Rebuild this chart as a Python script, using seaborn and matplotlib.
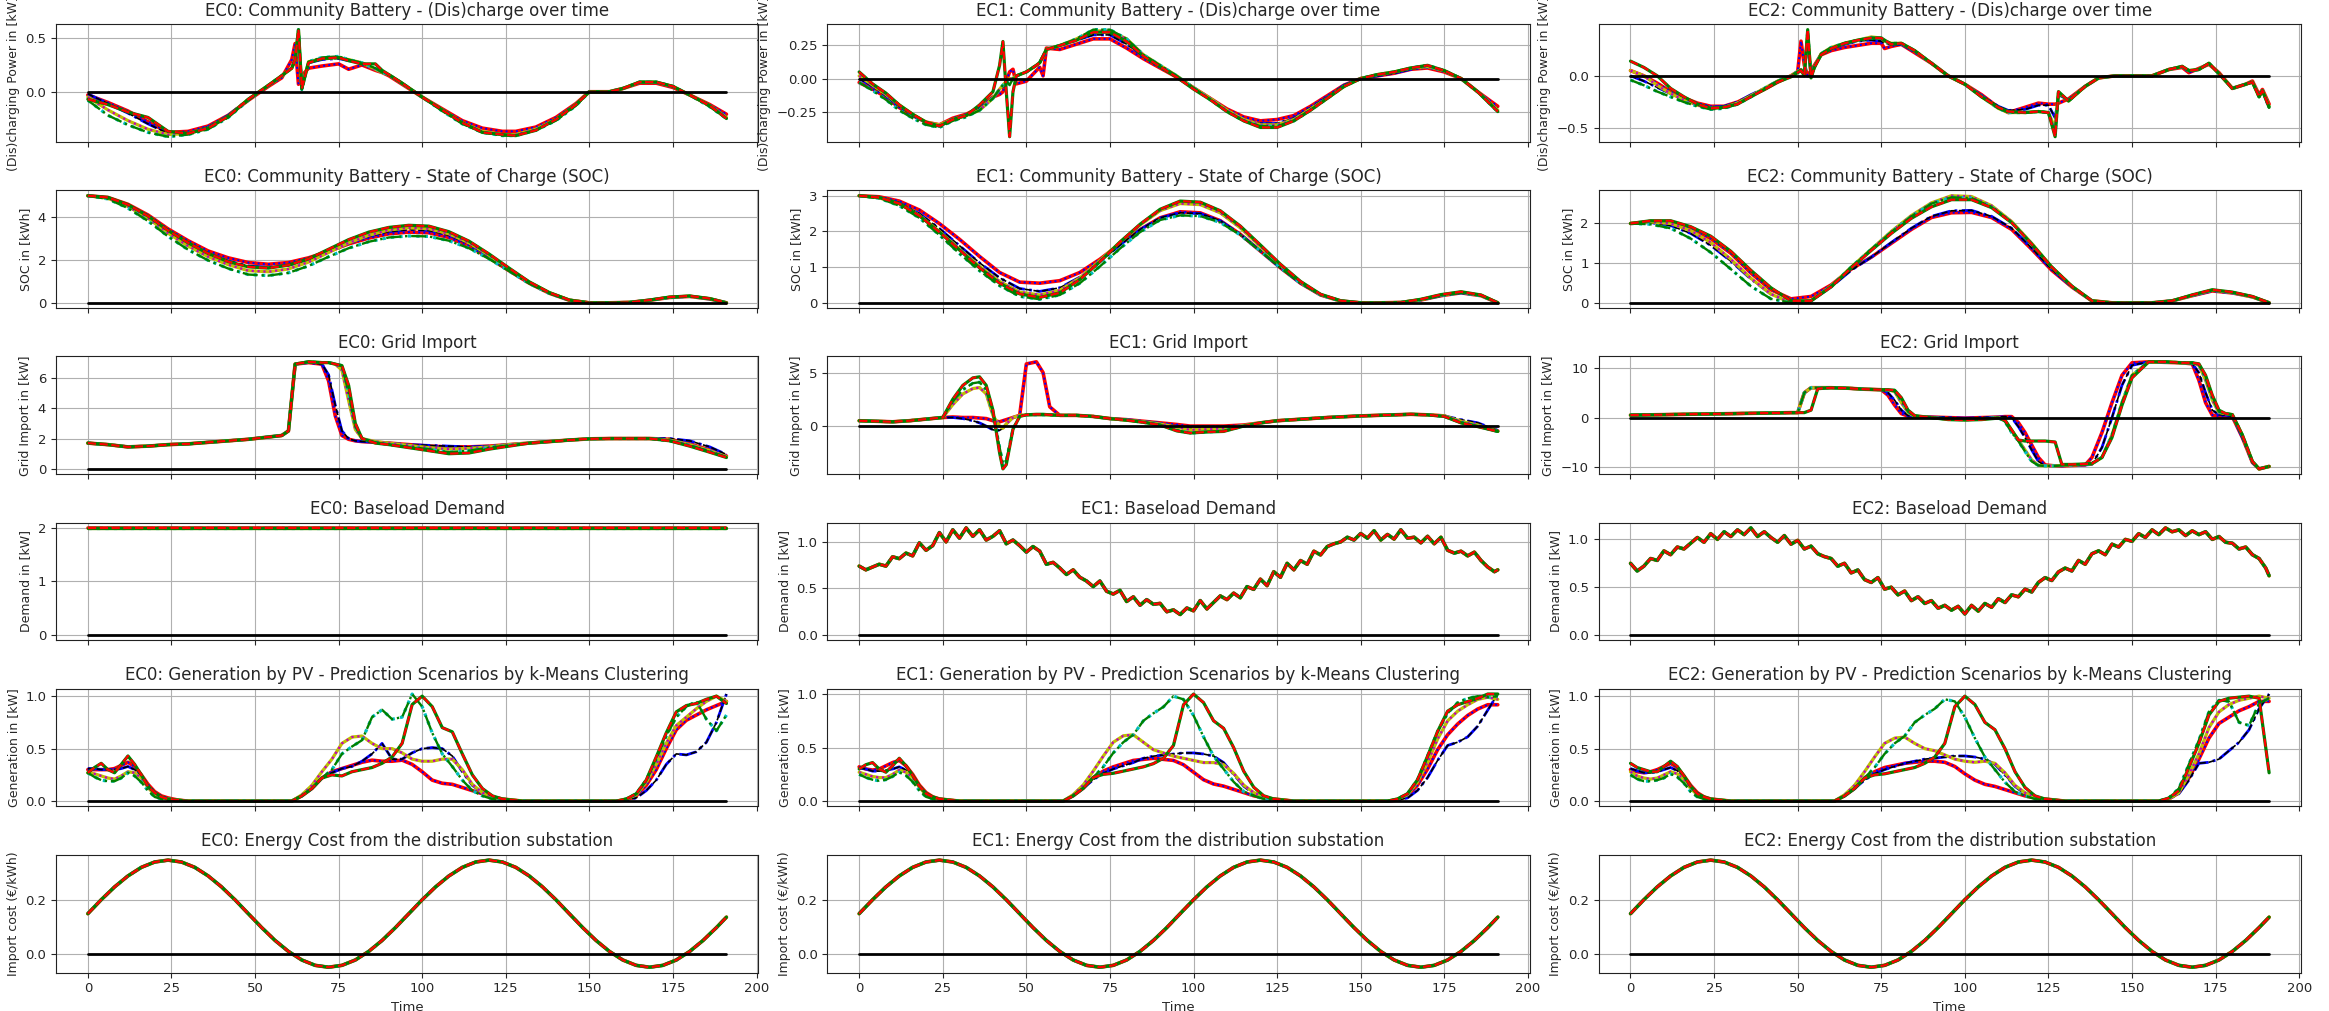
import numpy as np
import matplotlib
matplotlib.use("Agg")
import matplotlib.pyplot as plt
import seaborn as sns

# ---------------- data ----------------
# Row 1: battery (dis)charge power [kW]; scenarios r, b, y, c, g
ec0_dis_t = [0,6,12,18,24,30,36,42,48,54,58,61,62,63,64,66,70,75,78,82,86,88,90,94,100,106,112,118,124,128,134,140,146,150,156,160,165,170,175,180,186,191]
ec0_dis_r = [-0.03,-0.10,-0.18,-0.28,-0.38,-0.37,-0.32,-0.22,-0.08,0.05,0.13,0.30,0.45,0.07,0.15,0.22,0.24,0.26,0.21,0.25,0.20,0.18,0.15,0.07,-0.05,-0.16,-0.27,-0.34,-0.37,-0.37,-0.33,-0.24,-0.11,0.00,0.00,0.03,0.08,0.08,0.04,-0.03,-0.12,-0.21]
ec0_dis_b = [-0.02,-0.11,-0.20,-0.30,-0.39,-0.39,-0.33,-0.22,-0.07,0.06,0.15,0.22,0.30,0.56,0.03,0.27,0.30,0.31,0.29,0.27,0.21,0.18,0.16,0.08,-0.05,-0.17,-0.29,-0.37,-0.40,-0.40,-0.35,-0.26,-0.12,0.00,0.00,0.03,0.09,0.09,0.05,-0.03,-0.13,-0.23]
ec0_dis_y = [-0.05,-0.17,-0.27,-0.35,-0.40,-0.39,-0.34,-0.23,-0.07,0.06,0.15,0.22,0.30,0.57,0.03,0.28,0.31,0.32,0.30,0.27,0.21,0.18,0.16,0.08,-0.05,-0.17,-0.29,-0.37,-0.40,-0.40,-0.35,-0.26,-0.12,0.00,0.00,0.03,0.09,0.09,0.05,-0.03,-0.13,-0.24]
ec0_dis_c = [-0.08,-0.22,-0.31,-0.38,-0.42,-0.40,-0.35,-0.24,-0.08,0.06,0.15,0.22,0.30,0.58,0.02,0.28,0.32,0.33,0.30,0.27,0.22,0.18,0.16,0.08,-0.05,-0.18,-0.30,-0.38,-0.41,-0.41,-0.36,-0.27,-0.13,0.00,0.00,0.03,0.09,0.09,0.05,-0.03,-0.14,-0.25]
ec0_dis_g = [-0.07,-0.12,-0.19,-0.24,-0.37,-0.39,-0.34,-0.23,-0.07,0.06,0.15,0.22,0.30,0.58,0.03,0.27,0.31,0.32,0.29,0.26,0.26,0.20,0.16,0.08,-0.05,-0.17,-0.29,-0.38,-0.40,-0.41,-0.36,-0.26,-0.12,0.00,0.00,0.03,0.09,0.09,0.05,-0.03,-0.13,-0.25]

ec1_dis_t = [0,4,8,12,16,20,24,28,32,36,40,42,43,44,45,46,47,50,53,54,55,56,60,65,70,75,80,85,90,95,100,105,110,115,120,125,130,135,140,145,150,155,160,165,170,175,180,185,191]
ec1_dis_r = [-0.03,-0.08,-0.14,-0.22,-0.28,-0.33,-0.35,-0.30,-0.27,-0.22,-0.14,-0.12,-0.10,-0.02,0.05,0.07,-0.04,-0.02,0.06,0.085,0.02,0.23,0.22,0.26,0.30,0.30,0.23,0.15,0.08,0.01,-0.07,-0.15,-0.23,-0.29,-0.32,-0.31,-0.28,-0.21,-0.13,-0.05,0.0,0.02,0.04,0.07,0.08,0.05,0.0,-0.10,-0.21]
ec1_dis_b = [0.0,-0.06,-0.13,-0.21,-0.28,-0.33,-0.36,-0.31,-0.28,-0.23,-0.15,-0.09,-0.06,-0.03,0.0,0.0,0.02,0.05,0.10,0.12,0.17,0.22,0.25,0.29,0.33,0.33,0.26,0.17,0.09,0.02,-0.07,-0.15,-0.24,-0.31,-0.34,-0.34,-0.30,-0.22,-0.14,-0.05,0.0,0.02,0.04,0.07,0.09,0.06,0.0,-0.10,-0.23]
ec1_dis_y = [0.02,-0.05,-0.12,-0.20,-0.27,-0.33,-0.35,-0.31,-0.28,-0.24,-0.15,-0.08,-0.05,-0.02,0.0,0.0,0.02,0.05,0.10,0.12,0.17,0.22,0.25,0.30,0.36,0.36,0.30,0.18,0.10,0.02,-0.07,-0.15,-0.24,-0.31,-0.35,-0.35,-0.31,-0.23,-0.15,-0.06,0.0,0.03,0.05,0.08,0.09,0.06,0.0,-0.10,-0.24]
ec1_dis_c = [-0.03,-0.09,-0.16,-0.24,-0.30,-0.35,-0.37,-0.32,-0.29,-0.24,-0.15,-0.08,-0.05,-0.02,-0.05,0.0,0.02,0.05,0.10,0.12,0.17,0.22,0.25,0.30,0.37,0.37,0.30,0.18,0.10,0.02,-0.07,-0.16,-0.25,-0.32,-0.36,-0.36,-0.32,-0.24,-0.15,-0.06,0.0,0.03,0.05,0.08,0.10,0.06,0.0,-0.10,-0.25]
ec1_dis_g = [0.05,-0.04,-0.11,-0.20,-0.27,-0.33,-0.36,-0.31,-0.28,-0.20,-0.10,0.10,0.28,-0.10,-0.44,-0.10,0.02,0.05,0.10,0.12,0.17,0.22,0.25,0.29,0.35,0.35,0.28,0.17,0.09,0.01,-0.08,-0.16,-0.25,-0.32,-0.37,-0.37,-0.32,-0.24,-0.15,-0.06,0.0,0.03,0.05,0.08,0.10,0.06,0.0,-0.10,-0.25]

ec2_dis_t = [0,4,8,12,16,20,24,28,32,36,40,44,48,50,51,52,53,54,55,57,60,64,68,72,75,76,78,81,85,90,95,100,105,110,113,118,122,125,127,128,131,136,140,145,150,156,161,165,167,170,173,176,180,184,186,188,189,191]
ec2_dis_r = [0.05,0.0,-0.07,-0.15,-0.21,-0.26,-0.29,-0.29,-0.25,-0.19,-0.13,-0.06,0.0,0.04,0.33,0.10,0.0,0.05,0.10,0.20,0.24,0.27,0.29,0.31,0.31,0.26,0.28,0.30,0.22,0.12,0.0,-0.08,-0.18,-0.30,-0.35,-0.30,-0.26,-0.27,-0.27,-0.26,-0.22,-0.10,-0.02,0.0,0.0,0.0,0.06,0.08,0.03,0.07,0.11,0.03,-0.12,-0.08,-0.05,-0.18,-0.13,-0.27]
ec2_dis_b = [0.0,-0.05,-0.11,-0.17,-0.22,-0.27,-0.30,-0.29,-0.25,-0.18,-0.12,-0.05,0.0,0.04,0.06,0.02,0.30,0.0,0.08,0.21,0.26,0.30,0.33,0.34,0.33,0.31,0.30,0.30,0.23,0.12,0.0,-0.08,-0.19,-0.29,-0.33,-0.32,-0.28,-0.28,-0.40,-0.18,-0.23,-0.10,-0.02,0.0,0.0,0.0,0.06,0.09,0.04,0.06,0.12,0.02,-0.12,-0.08,-0.06,-0.19,-0.14,-0.31]
ec2_dis_y = [0.05,0.0,-0.09,-0.17,-0.23,-0.28,-0.31,-0.30,-0.26,-0.19,-0.12,-0.05,0.0,0.04,0.06,0.02,0.40,0.0,0.08,0.21,0.27,0.31,0.34,0.37,0.36,0.33,0.31,0.31,0.24,0.12,0.0,-0.08,-0.20,-0.31,-0.35,-0.35,-0.34,-0.35,-0.50,-0.16,-0.24,-0.10,-0.02,0.0,0.0,0.0,0.06,0.09,0.05,0.06,0.12,0.02,-0.12,-0.08,-0.06,-0.20,-0.14,-0.29]
ec2_dis_c = [-0.04,-0.09,-0.15,-0.20,-0.25,-0.29,-0.32,-0.31,-0.27,-0.20,-0.12,-0.05,0.0,0.04,0.06,0.02,0.42,-0.01,0.08,0.21,0.27,0.31,0.34,0.36,0.36,0.33,0.31,0.31,0.24,0.12,0.0,-0.08,-0.20,-0.31,-0.35,-0.35,-0.34,-0.35,-0.55,-0.16,-0.24,-0.10,-0.02,0.0,0.0,0.0,0.06,0.09,0.05,0.06,0.12,0.02,-0.12,-0.08,-0.06,-0.20,-0.14,-0.30]
ec2_dis_g = [0.14,0.08,0.0,-0.12,-0.20,-0.27,-0.31,-0.30,-0.27,-0.20,-0.13,-0.06,-0.01,0.03,0.05,0.0,0.44,-0.02,0.08,0.20,0.26,0.31,0.34,0.36,0.36,0.34,0.30,0.31,0.24,0.12,0.0,-0.08,-0.20,-0.30,-0.34,-0.35,-0.34,-0.35,-0.58,-0.15,-0.24,-0.10,-0.02,0.0,0.0,0.0,0.06,0.09,0.05,0.06,0.12,0.02,-0.12,-0.08,-0.06,-0.20,-0.14,-0.30]

# Row 2: state of charge [kWh], sampled every 6 h
soc_t = [0,6,12,18,24,30,36,42,48,54,60,66,72,78,84,90,96,102,108,114,120,126,132,138,144,150,156,162,168,174,180,186,191]
ec0_soc_r = [5.0,4.92,4.6,4.1,3.45,2.9,2.42,2.1,1.88,1.8,1.88,2.1,2.4,2.75,3.02,3.22,3.3,3.27,3.05,2.65,2.1,1.5,0.92,0.45,0.12,0.0,0.0,0.02,0.12,0.25,0.3,0.18,0.0]
ec0_soc_b = [5.0,4.9,4.55,4.02,3.35,2.78,2.3,1.95,1.72,1.66,1.75,2.0,2.38,2.78,3.1,3.32,3.42,3.38,3.15,2.75,2.18,1.55,0.95,0.47,0.13,0.0,0.0,0.02,0.12,0.25,0.3,0.18,0.0]
ec0_soc_y = [5.0,4.88,4.5,3.95,3.25,2.65,2.15,1.78,1.5,1.45,1.58,1.9,2.35,2.8,3.15,3.4,3.5,3.46,3.22,2.8,2.22,1.58,0.97,0.48,0.13,0.0,0.0,0.02,0.12,0.26,0.31,0.19,0.0]
ec0_soc_c = [5.0,4.85,4.42,3.82,3.1,2.48,1.98,1.6,1.32,1.27,1.4,1.72,2.15,2.55,2.85,3.05,3.12,3.1,2.9,2.55,2.05,1.48,0.9,0.44,0.12,0.0,0.0,0.02,0.12,0.25,0.3,0.18,0.0]
ec0_soc_g = [5.0,4.92,4.58,4.05,3.38,2.8,2.3,1.92,1.68,1.62,1.76,2.05,2.5,2.95,3.3,3.52,3.62,3.58,3.32,2.88,2.28,1.62,0.98,0.48,0.13,0.0,0.0,0.02,0.13,0.27,0.32,0.2,0.0]

ec1_soc_r = [3.0,2.97,2.85,2.6,2.22,1.78,1.3,0.85,0.58,0.55,0.62,0.85,1.22,1.65,2.05,2.38,2.55,2.52,2.3,1.92,1.45,0.98,0.55,0.22,0.05,0.0,0.0,0.01,0.08,0.2,0.28,0.2,0.0]
ec1_soc_b = [3.0,2.95,2.8,2.5,2.08,1.6,1.12,0.7,0.4,0.32,0.42,0.72,1.15,1.62,2.05,2.38,2.52,2.5,2.3,1.92,1.45,0.98,0.55,0.22,0.05,0.0,0.0,0.01,0.08,0.2,0.28,0.2,0.0]
ec1_soc_y = [3.0,2.94,2.77,2.45,2.0,1.5,1.02,0.6,0.3,0.22,0.35,0.7,1.18,1.7,2.18,2.58,2.78,2.75,2.52,2.1,1.58,1.05,0.58,0.23,0.05,0.0,0.0,0.01,0.09,0.22,0.3,0.21,0.0]
ec1_soc_c = [3.0,2.93,2.72,2.38,1.9,1.38,0.9,0.48,0.18,0.1,0.22,0.55,1.02,1.52,1.98,2.32,2.45,2.43,2.25,1.9,1.45,0.98,0.55,0.22,0.05,0.0,0.0,0.01,0.08,0.2,0.28,0.2,0.0]
ec1_soc_g = [3.0,2.95,2.78,2.44,1.98,1.48,0.98,0.55,0.25,0.15,0.28,0.65,1.15,1.7,2.2,2.62,2.85,2.82,2.58,2.15,1.62,1.08,0.6,0.24,0.06,0.0,0.0,0.01,0.1,0.23,0.31,0.22,0.0]

ec2_soc_r = [2.0,2.05,2.02,1.88,1.62,1.25,0.75,0.33,0.1,0.16,0.45,0.85,1.15,1.5,1.85,2.15,2.27,2.28,2.15,1.85,1.35,0.82,0.4,0.05,0.0,0.0,0.0,0.05,0.18,0.3,0.25,0.15,0.0]
ec2_soc_b = [2.0,2.02,1.95,1.75,1.45,1.05,0.6,0.22,0.02,0.05,0.4,0.82,1.15,1.52,1.88,2.18,2.32,2.33,2.18,1.88,1.38,0.84,0.4,0.05,0.0,0.0,0.0,0.05,0.18,0.3,0.25,0.15,0.0]
ec2_soc_y = [2.0,2.04,2.0,1.82,1.52,1.1,0.62,0.22,0.0,0.05,0.42,0.9,1.35,1.8,2.2,2.52,2.7,2.68,2.45,2.05,1.5,0.9,0.42,0.05,0.0,0.0,0.0,0.05,0.19,0.32,0.26,0.15,0.0]
ec2_soc_c = [2.0,1.98,1.88,1.62,1.27,0.85,0.42,0.1,0.0,0.05,0.42,0.9,1.35,1.78,2.18,2.5,2.66,2.64,2.42,2.03,1.48,0.9,0.42,0.05,0.0,0.0,0.0,0.05,0.19,0.32,0.26,0.15,0.0]
ec2_soc_g = [2.0,2.07,2.07,1.92,1.68,1.3,0.82,0.38,0.05,0.05,0.4,0.88,1.32,1.75,2.13,2.42,2.6,2.6,2.4,2.02,1.48,0.9,0.42,0.05,0.0,0.0,0.0,0.05,0.2,0.33,0.27,0.16,0.0]

# Row 3: grid import [kW]
ec0_grid_t = [0,6,12,18,24,30,36,42,48,54,58,60,62,66,70,72,74,76,78,80,82,86,90,96,102,108,114,120,126,132,138,144,150,156,162,168,174,180,186,191]
ec0_grid_r = [1.7,1.6,1.45,1.5,1.6,1.65,1.75,1.85,1.95,2.1,2.2,2.5,6.9,7.0,6.9,5.8,3.5,2.2,1.95,1.85,1.8,1.75,1.7,1.6,1.5,1.45,1.45,1.5,1.6,1.7,1.8,1.9,1.98,2.0,2.0,2.0,1.95,1.65,1.25,0.85]
ec0_grid_b = [1.7,1.6,1.45,1.5,1.6,1.65,1.75,1.85,1.95,2.1,2.2,2.5,6.9,7.0,6.9,6.2,4.2,2.5,2.0,1.85,1.8,1.75,1.7,1.6,1.55,1.5,1.45,1.5,1.6,1.7,1.8,1.9,1.98,2.0,2.0,2.0,2.0,1.85,1.45,0.95]
ec0_grid_y = [1.7,1.6,1.45,1.5,1.6,1.65,1.75,1.85,1.95,2.1,2.2,2.5,6.9,7.05,7.0,7.0,6.9,6.5,4.5,2.6,2.0,1.8,1.7,1.55,1.4,1.3,1.35,1.45,1.6,1.7,1.8,1.9,1.98,2.0,2.0,2.0,1.9,1.6,1.2,0.8]
ec0_grid_c = [1.7,1.6,1.45,1.5,1.6,1.65,1.75,1.85,1.95,2.1,2.2,2.5,6.9,7.05,7.0,7.0,6.9,6.8,5.0,2.8,2.0,1.75,1.6,1.45,1.3,1.1,1.2,1.4,1.55,1.7,1.8,1.9,1.98,2.0,2.0,2.0,1.85,1.55,1.15,0.78]
ec0_grid_g = [1.7,1.6,1.45,1.5,1.6,1.65,1.75,1.85,1.95,2.1,2.2,2.5,6.9,7.05,7.0,7.0,6.9,6.8,5.5,3.0,2.0,1.7,1.6,1.4,1.2,1.0,1.05,1.3,1.5,1.7,1.8,1.9,1.98,2.0,2.0,2.0,1.85,1.5,1.1,0.75]

ec1_grid_t = [0,5,10,15,20,25,28,31,34,36,38,40,42,43,44,46,48,50,53,55,57,60,65,70,75,80,85,90,95,99,104,109,115,120,125,130,140,150,160,165,170,175,180,185,191]
ec1_grid_r = [0.5,0.45,0.4,0.5,0.65,0.8,0.85,0.8,0.8,0.75,0.7,0.5,0.4,0.5,0.6,0.8,1.0,5.8,6.0,5.0,1.8,1.0,1.0,0.9,0.7,0.6,0.45,0.3,0.15,0.0,0.0,0.0,0.1,0.3,0.5,0.6,0.8,0.95,1.05,1.1,1.05,0.95,0.35,0.0,-0.45]
ec1_grid_b = [0.5,0.45,0.4,0.5,0.65,0.8,0.8,0.7,0.5,0.3,0.0,-0.35,-0.4,-0.2,0.2,0.8,1.0,1.05,1.05,1.05,1.05,1.0,1.0,0.9,0.7,0.6,0.45,0.25,0.0,-0.2,-0.2,-0.15,0.05,0.3,0.5,0.6,0.8,0.95,1.05,1.1,1.05,0.95,0.6,0.3,-0.4]
ec1_grid_y = [0.5,0.45,0.4,0.5,0.65,0.8,2.0,3.0,3.5,3.6,3.0,1.0,0.0,-0.2,0.2,0.8,1.0,1.05,1.05,1.05,1.05,1.0,1.0,0.9,0.7,0.55,0.4,0.2,-0.1,-0.35,-0.3,-0.2,0.05,0.3,0.5,0.6,0.8,0.95,1.05,1.1,1.05,0.95,0.45,0.1,-0.5]
ec1_grid_c = [0.5,0.45,0.4,0.5,0.65,0.8,2.3,3.4,4.0,4.1,3.4,1.2,-2.0,-3.5,-3.2,-0.3,0.9,1.05,1.05,1.05,1.05,1.0,1.0,0.9,0.7,0.55,0.35,0.1,-0.4,-0.65,-0.55,-0.45,0.0,0.3,0.5,0.6,0.8,0.95,1.05,1.1,1.05,0.9,0.35,0.0,-0.5]
ec1_grid_g = [0.5,0.45,0.4,0.5,0.65,0.8,2.5,3.8,4.5,4.6,3.8,1.5,-2.5,-4.0,-3.6,-0.3,0.9,1.05,1.1,1.1,1.05,1.0,1.0,0.9,0.7,0.55,0.35,0.1,-0.45,-0.65,-0.55,-0.5,0.0,0.3,0.5,0.6,0.8,0.95,1.05,1.1,1.05,0.9,0.3,-0.05,-0.5]

ec2_grid_t = [0,10,20,30,40,48,50,52,54,56,60,65,70,75,77,79,81,83,85,90,95,100,105,110,112,114,116,118,120,122,124,127,129,132,136,138,141,144,147,150,155,160,165,168,170,172,174,176,178,180,183,186,188,191]
ec2_grid_r = [0.5,0.6,0.7,0.8,0.9,1.0,1.0,5.0,6.0,6.0,6.0,5.9,5.7,5.6,4.5,2.5,0.8,0.3,0.2,0.1,0.0,-0.1,0.0,0.1,0.2,0.2,-1.0,-3.0,-5.5,-8.0,-9.5,-9.7,-9.7,-9.6,-9.5,-8.0,-3.0,3.0,8.5,11.0,11.2,11.1,11.0,10.8,7.5,3.0,0.5,0.3,0.3,0.2,-4.0,-9.0,-10.3,-9.8]
ec2_grid_b = [0.5,0.6,0.7,0.8,0.9,1.0,1.0,5.0,6.0,6.0,6.0,5.9,5.7,5.6,5.0,3.5,1.5,0.4,0.2,0.1,0.0,-0.1,0.0,0.1,0.2,0.0,-1.8,-4.0,-6.5,-8.8,-9.7,-9.7,-9.7,-9.6,-9.5,-9.4,-6.0,0.0,6.5,10.5,11.2,11.1,11.0,10.9,9.0,5.0,1.5,0.6,0.5,0.3,-4.0,-9.0,-10.3,-9.8]
ec2_grid_y = [0.5,0.6,0.7,0.8,0.9,1.0,1.0,5.0,6.0,6.0,6.0,5.9,5.7,5.6,5.6,5.2,3.0,1.0,0.3,0.0,-0.3,-0.4,-0.3,0.0,-0.5,-2.5,-4.5,-6.5,-8.5,-9.6,-9.7,-9.7,-9.6,-9.5,-9.4,-9.3,-8.0,-3.5,3.0,8.5,11.2,11.2,11.0,11.0,10.5,7.5,3.5,1.0,0.8,0.6,-3.5,-8.8,-10.3,-9.8]
ec2_grid_c = [0.5,0.6,0.7,0.8,0.9,1.0,1.0,5.0,6.0,6.0,6.0,5.9,5.7,5.6,5.6,5.3,3.5,1.2,0.3,0.0,-0.3,-0.4,-0.3,0.0,-0.8,-3.0,-4.7,-6.8,-8.8,-9.6,-9.7,-9.7,-9.6,-9.5,-9.4,-9.3,-8.0,-3.5,3.0,8.5,11.2,11.2,11.0,11.0,10.7,8.0,4.0,1.2,0.8,0.6,-3.5,-8.8,-10.3,-9.8]
ec2_grid_g = [0.5,0.6,0.7,0.8,0.9,1.0,1.0,1.0,1.5,5.8,6.0,5.9,5.7,5.6,5.6,5.5,4.0,1.5,0.4,0.0,-0.4,-0.5,-0.4,-0.1,-0.5,-2.5,-4.5,-4.7,-4.7,-4.7,-4.7,-4.9,-9.4,-9.4,-9.3,-9.2,-8.0,-4.0,2.5,8.0,11.2,11.2,11.0,11.0,10.8,8.5,4.5,1.5,0.8,0.6,-3.5,-8.8,-10.3,-9.8]

# Row 4: baseload demand [kW] (identical in all scenarios)
ec0_load_t = [0, 191]
ec0_load = [2.0, 2.0]
load_t = list(range(0, 191, 2)) + [191]
ec1_load = [0.74,0.70,0.73,0.76,0.74,0.84,0.82,0.88,0.85,0.99,
            0.91,0.96,1.10,1.00,1.13,1.04,1.15,1.06,1.13,1.02,
            1.06,1.12,0.98,1.02,0.96,0.89,0.95,0.90,0.76,0.78,
            0.72,0.65,0.70,0.62,0.58,0.52,0.58,0.47,0.44,0.48,
            0.36,0.41,0.32,0.38,0.33,0.34,0.25,0.27,0.22,0.29,
            0.26,0.37,0.28,0.35,0.42,0.38,0.45,0.40,0.52,0.49,
            0.60,0.53,0.68,0.62,0.77,0.70,0.80,0.76,0.90,0.86,
            0.95,0.98,1.00,1.05,1.02,1.09,1.04,1.12,1.02,1.08,
            1.03,1.13,1.04,1.05,0.99,1.06,0.98,1.05,0.91,0.88,
            0.90,0.85,0.89,0.80,0.73,0.68,0.70]
ec2_load = [0.75,0.67,0.72,0.80,0.78,0.88,0.84,0.92,0.90,0.96,
            1.02,0.97,1.06,1.00,1.08,1.03,1.10,1.05,1.12,1.03,
            1.08,1.02,0.97,1.04,0.95,0.99,0.90,0.93,0.85,0.82,
            0.80,0.72,0.75,0.65,0.68,0.58,0.55,0.60,0.48,0.50,
            0.42,0.46,0.36,0.40,0.33,0.36,0.28,0.31,0.26,0.30,
            0.22,0.31,0.25,0.33,0.29,0.38,0.34,0.42,0.40,0.48,
            0.45,0.55,0.60,0.57,0.66,0.70,0.67,0.78,0.74,0.85,
            0.88,0.84,0.95,0.92,1.00,0.98,1.06,1.02,1.10,1.05,
            1.12,1.08,1.10,1.04,1.09,1.05,1.08,1.00,1.03,0.97,
            0.96,0.90,0.92,0.84,0.80,0.70,0.62]

# Row 5: PV generation scenarios [kW]
pv_t = [0,2,4,6,8,10,12,14,16,18,20,22,24,27,30,40,50,58,
        61,64,67,70,73,76,79,82,85,88,91,94,97,100,103,106,109,112,115,118,121,124,127,130,
        140,150,155,158,161,164,167,170,173,176,179,182,185,188,191]
ec0_pv_r = [0.30,0.30,0.30,0.30,0.31,0.34,0.37,0.33,0.25,0.16,0.09,0.05,0.03, 0.01,0.0,0.0,0.0,0.0,
            0.0,0.05,0.12,0.22,0.28,0.31,0.34,0.37,0.39,0.38,0.38,0.39,0.35,0.28,0.20,0.17,0.16,0.13,0.10,0.07,0.04,0.02,0.01,0.0,
            0.0,0.0,0.0, 0.0,0.01,0.05,0.15,0.30,0.50,0.68,0.77,0.82,0.87,0.91,0.95]
ec0_pv_b = [0.31,0.31,0.30,0.30,0.30,0.31,0.33,0.30,0.24,0.14,0.07,0.04,0.02, 0.01,0.0,0.0,0.0,0.0,
            0.0,0.05,0.12,0.22,0.27,0.31,0.33,0.38,0.45,0.55,0.40,0.40,0.46,0.5,0.51,0.5,0.43,0.28,0.15,0.08,0.04,0.02,0.01,0.0,
            0.0,0.0,0.0, 0.0,0.01,0.03,0.1,0.2,0.35,0.45,0.44,0.47,0.56,0.75,1.02]
ec0_pv_y = [0.27,0.26,0.24,0.22,0.21,0.24,0.28,0.27,0.22,0.13,0.06,0.03,0.02, 0.01,0.0,0.0,0.0,0.0,
            0.0,0.06,0.15,0.28,0.4,0.55,0.61,0.62,0.55,0.5,0.5,0.46,0.4,0.38,0.38,0.4,0.4,0.3,0.16,0.08,0.04,0.02,0.01,0.0,
            0.0,0.0,0.0, 0.0,0.02,0.06,0.18,0.35,0.55,0.72,0.8,0.88,0.95,1.0,0.95]
ec0_pv_c = [0.27,0.23,0.2,0.19,0.19,0.22,0.27,0.24,0.18,0.1,0.04,0.02,0.01, 0.0,0.0,0.0,0.0,0.0,
            0.0,0.05,0.12,0.22,0.3,0.45,0.52,0.58,0.8,0.87,0.78,0.8,1.02,0.9,0.65,0.45,0.33,0.2,0.1,0.05,0.02,0.01,0.0,0.0,
            0.0,0.0,0.0, 0.0,0.02,0.07,0.2,0.4,0.62,0.8,0.9,0.95,0.78,0.67,0.82]
ec0_pv_g = [0.27,0.32,0.36,0.30,0.27,0.35,0.43,0.35,0.25,0.14,0.08,0.04,0.02, 0.01,0.0,0.0,0.0,0.0,
            0.0,0.05,0.12,0.22,0.25,0.24,0.28,0.30,0.32,0.36,0.42,0.55,0.92,1.0,0.9,0.7,0.66,0.45,0.25,0.12,0.05,0.02,0.01,0.0,
            0.0,0.0,0.0, 0.0,0.02,0.07,0.2,0.42,0.65,0.85,0.91,0.93,0.97,1.0,0.93]

ec1_pv_r = [0.32,0.30,0.29,0.30,0.33,0.36,0.38,0.33,0.25,0.15,0.08,0.04,0.02, 0.01,0.0,0.0,0.0,0.0,
            0.0,0.05,0.12,0.22,0.28,0.32,0.35,0.38,0.39,0.40,0.39,0.38,0.34,0.27,0.2,0.16,0.14,0.11,0.08,0.05,0.03,0.02,0.01,0.0,
            0.0,0.0,0.0, 0.0,0.01,0.05,0.15,0.3,0.48,0.62,0.72,0.8,0.86,0.9,0.9]
ec1_pv_b = [0.31,0.30,0.28,0.28,0.29,0.30,0.32,0.29,0.22,0.13,0.06,0.03,0.02, 0.01,0.0,0.0,0.0,0.0,
            0.0,0.05,0.12,0.2,0.26,0.3,0.33,0.36,0.4,0.42,0.43,0.44,0.45,0.45,0.44,0.42,0.36,0.25,0.14,0.07,0.03,0.02,0.01,0.0,
            0.0,0.0,0.0, 0.0,0.01,0.03,0.1,0.22,0.38,0.52,0.55,0.6,0.7,0.85,1.0]
ec1_pv_y = [0.27,0.25,0.23,0.22,0.22,0.25,0.29,0.27,0.22,0.13,0.06,0.03,0.02, 0.01,0.0,0.0,0.0,0.0,
            0.0,0.06,0.15,0.28,0.42,0.55,0.61,0.62,0.55,0.48,0.45,0.42,0.40,0.38,0.36,0.36,0.34,0.26,0.15,0.08,0.04,0.02,0.01,0.0,
            0.0,0.0,0.0, 0.0,0.02,0.06,0.18,0.36,0.58,0.75,0.84,0.9,0.95,0.97,0.95]
ec1_pv_c = [0.25,0.22,0.2,0.19,0.2,0.23,0.27,0.24,0.18,0.1,0.04,0.02,0.01, 0.0,0.0,0.0,0.0,0.0,
            0.0,0.05,0.12,0.22,0.32,0.45,0.55,0.62,0.75,0.82,0.88,0.98,0.95,0.8,0.6,0.42,0.3,0.18,0.09,0.05,0.02,0.01,0.0,0.0,
            0.0,0.0,0.0, 0.0,0.02,0.07,0.2,0.42,0.65,0.82,0.92,0.96,0.98,0.97,0.98]
ec1_pv_g = [0.30,0.34,0.36,0.30,0.27,0.33,0.40,0.33,0.24,0.14,0.07,0.04,0.02, 0.01,0.0,0.0,0.0,0.0,
            0.0,0.05,0.12,0.22,0.25,0.26,0.28,0.30,0.32,0.35,0.4,0.52,0.9,1.0,0.92,0.75,0.68,0.5,0.28,0.13,0.05,0.02,0.01,0.0,
            0.0,0.0,0.0, 0.0,0.02,0.07,0.2,0.42,0.65,0.84,0.9,0.93,0.96,1.0,1.0]

ec2_pv_r = [0.30,0.28,0.27,0.28,0.30,0.33,0.36,0.32,0.24,0.15,0.08,0.04,0.02, 0.01,0.0,0.0,0.0,0.0,
            0.0,0.05,0.12,0.22,0.28,0.32,0.34,0.36,0.37,0.38,0.38,0.37,0.33,0.26,0.2,0.16,0.14,0.11,0.08,0.05,0.03,0.02,0.01,0.0,
            0.0,0.0,0.0, 0.0,0.02,0.08,0.22,0.4,0.6,0.74,0.8,0.86,0.9,0.95,0.95]
ec2_pv_b = [0.31,0.29,0.27,0.27,0.28,0.30,0.32,0.29,0.22,0.13,0.06,0.03,0.02, 0.01,0.0,0.0,0.0,0.0,
            0.0,0.05,0.12,0.2,0.26,0.3,0.33,0.36,0.38,0.4,0.41,0.42,0.43,0.43,0.42,0.4,0.35,0.25,0.14,0.07,0.03,0.02,0.01,0.0,
            0.0,0.0,0.0, 0.0,0.02,0.07,0.2,0.36,0.37,0.4,0.48,0.56,0.68,0.88,1.02]
ec2_pv_y = [0.28,0.24,0.22,0.21,0.22,0.25,0.28,0.26,0.21,0.12,0.06,0.03,0.02, 0.01,0.0,0.0,0.0,0.0,
            0.0,0.06,0.15,0.28,0.42,0.55,0.6,0.61,0.55,0.5,0.48,0.44,0.4,0.38,0.37,0.38,0.36,0.27,0.15,0.08,0.04,0.02,0.01,0.0,
            0.0,0.0,0.0, 0.0,0.02,0.08,0.25,0.45,0.7,0.85,0.92,0.96,0.98,1.0,0.98]
ec2_pv_c = [0.25,0.21,0.19,0.19,0.2,0.22,0.26,0.23,0.17,0.09,0.04,0.02,0.01, 0.0,0.0,0.0,0.0,0.0,
            0.0,0.05,0.12,0.22,0.32,0.45,0.55,0.62,0.75,0.82,0.88,0.97,0.95,0.8,0.6,0.42,0.3,0.18,0.09,0.05,0.02,0.01,0.0,0.0,
            0.0,0.0,0.0, 0.0,0.03,0.12,0.35,0.58,0.85,0.96,0.95,0.75,0.72,0.93,0.98]
ec2_pv_g = [0.36,0.32,0.30,0.28,0.28,0.33,0.38,0.33,0.24,0.14,0.07,0.04,0.02, 0.01,0.0,0.0,0.0,0.0,
            0.0,0.05,0.12,0.22,0.25,0.26,0.28,0.3,0.32,0.36,0.42,0.55,0.9,1.0,0.92,0.75,0.68,0.5,0.28,0.13,0.05,0.02,0.01,0.0,
            0.0,0.0,0.0, 0.0,0.03,0.1,0.32,0.55,0.82,0.95,0.98,0.99,1.0,0.98,0.27]

# Row 6: import cost [EUR/kWh] (identical for all communities)
cost_t = list(range(0, 189, 4)) + [191]
cost = [0.150,0.202,0.250,0.291,0.323,0.343,0.350,0.343,0.323,0.291,0.250,0.202,
        0.150,0.098,0.050,0.009,-0.023,-0.043,-0.050,-0.043,-0.023,0.009,0.050,0.098,
        0.150,0.202,0.250,0.291,0.323,0.343,0.350,0.343,0.323,0.291,0.250,0.202,
        0.150,0.098,0.050,0.009,-0.023,-0.043,-0.050,-0.043,-0.023,0.009,0.050,0.098,
        0.137]

row_titles = ["Community Battery - (Dis)charge over time",
              "Community Battery - State of Charge (SOC)",
              "Grid Import",
              "Baseload Demand",
              "Generation by PV - Prediction Scenarios by k-Means Clustering",
              "Energy Cost from the distribution substation"]
row_ylabels = ["(Dis)charging Power in [kW]", "SOC in [kWh]", "Grid Import in [kW]",
               "Demand in [kW]", "Generation in [kW]", "Import cost (€/kWh)"]
communities = ["EC0", "EC1", "EC2"]

# ---------------- styling ----------------
sns.set_style("ticks")
plt.rcParams['font.family'] = ['DejaVu Sans']

# each scenario = a base line plus an overlay line (color, linestyle, linewidth)
STYLES = [
    [("red", "-", 2.6), ("blue", ":", 1.4)],
    [("blue", "-.", 2.0), ("black", "--", 1.2)],
    [("y", "-", 2.3), ("m", ":", 1.6)],
    [("c", ":", 2.3), ("g", "-.", 1.7)],
    [("g", "-", 2.3), ("r", "--", 1.6)],
]

panels = [
    [(ec0_dis_t, [ec0_dis_r, ec0_dis_b, ec0_dis_y, ec0_dis_c, ec0_dis_g]),
     (ec1_dis_t, [ec1_dis_r, ec1_dis_b, ec1_dis_y, ec1_dis_c, ec1_dis_g]),
     (ec2_dis_t, [ec2_dis_r, ec2_dis_b, ec2_dis_y, ec2_dis_c, ec2_dis_g])],
    [(soc_t, [ec0_soc_r, ec0_soc_b, ec0_soc_y, ec0_soc_c, ec0_soc_g]),
     (soc_t, [ec1_soc_r, ec1_soc_b, ec1_soc_y, ec1_soc_c, ec1_soc_g]),
     (soc_t, [ec2_soc_r, ec2_soc_b, ec2_soc_y, ec2_soc_c, ec2_soc_g])],
    [(ec0_grid_t, [ec0_grid_r, ec0_grid_b, ec0_grid_y, ec0_grid_c, ec0_grid_g]),
     (ec1_grid_t, [ec1_grid_r, ec1_grid_b, ec1_grid_y, ec1_grid_c, ec1_grid_g]),
     (ec2_grid_t, [ec2_grid_r, ec2_grid_b, ec2_grid_y, ec2_grid_c, ec2_grid_g])],
    [(ec0_load_t, [ec0_load] * 5),
     (load_t, [ec1_load] * 5),
     (load_t, [ec2_load] * 5)],
    [(pv_t, [ec0_pv_r, ec0_pv_b, ec0_pv_y, ec0_pv_c, ec0_pv_g]),
     (pv_t, [ec1_pv_r, ec1_pv_b, ec1_pv_y, ec1_pv_c, ec1_pv_g]),
     (pv_t, [ec2_pv_r, ec2_pv_b, ec2_pv_y, ec2_pv_c, ec2_pv_g])],
    [(cost_t, [cost] * 5), (cost_t, [cost] * 5), (cost_t, [cost] * 5)],
]

fig, axes = plt.subplots(6, 3, figsize=(23.29, 10.11), dpi=100, sharex=True)
fig.subplots_adjust(left=0.024, right=0.988, top=0.976, bottom=0.038, wspace=0.098, hspace=0.41)

for r in range(6):
    for c in range(3):
        ax = axes[r, c]
        t, series = panels[r][c]
        for vals, style in zip(series, STYLES):
            assert len(vals) == len(t), (r, c, len(vals), len(t))
            for color, ls, lw in style:
                sns.lineplot(x=t, y=vals, ax=ax, color=color, linestyle=ls,
                             linewidth=lw, estimator=None, sort=False, legend=False)
        sns.lineplot(x=[0, 191], y=[0, 0], ax=ax, color="black", linewidth=2,
                     estimator=None, legend=False)
        ax.grid(True, color="#b0b0b0", linewidth=0.8)
        ax.set_title(f"{communities[c]}: {row_titles[r]}", fontsize=12)
        ax.set_ylabel(row_ylabels[r], fontsize=9)
        ax.tick_params(labelsize=9.5)
        if r == 5:
            ax.set_xlabel("Time", fontsize=9.5)
        else:
            ax.set_xlabel("")
        for s in ax.spines.values():
            s.set_color("#222222")

axes[5, 0].set_xticks([0, 25, 50, 75, 100, 125, 150, 175, 200])
fig.savefig("out.png", dpi=100)
